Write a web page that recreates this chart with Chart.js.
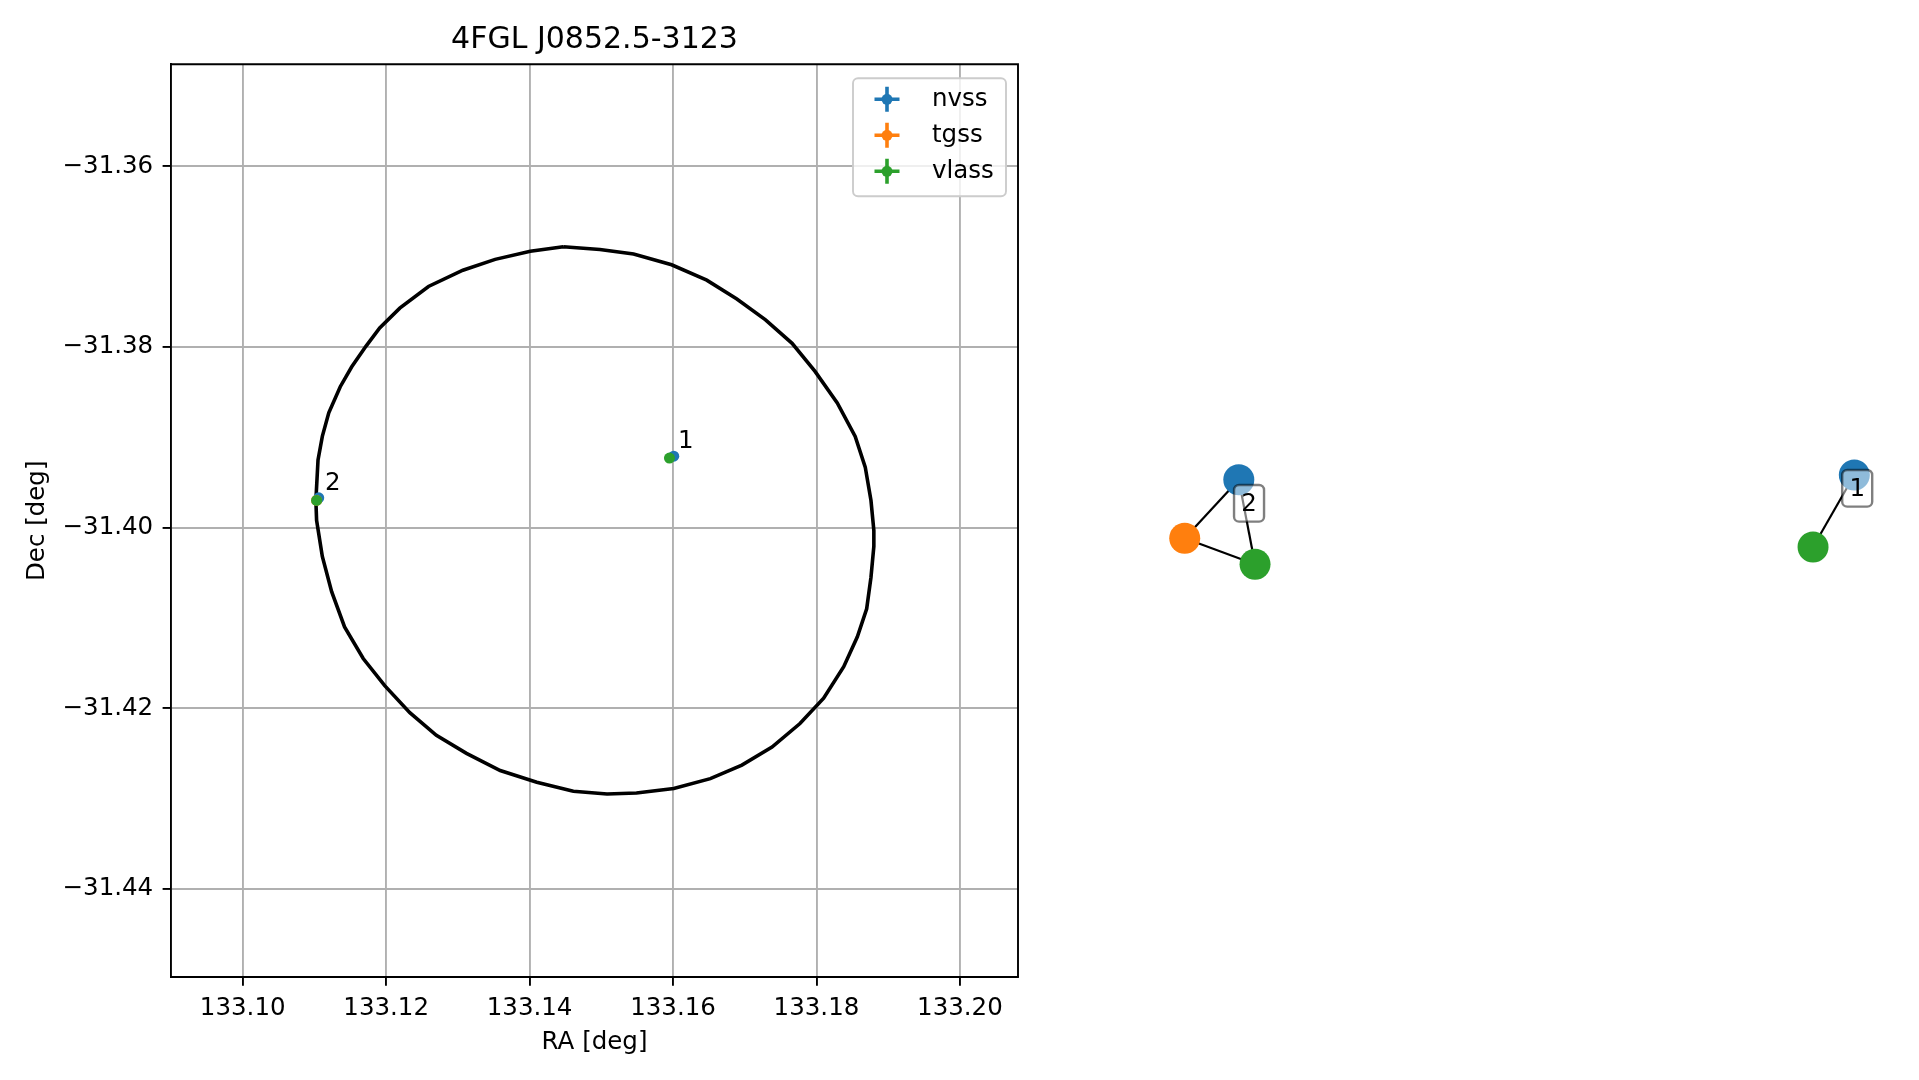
<!DOCTYPE html>
<html>
<head>
<meta charset="utf-8">
<script src="https://cdn.jsdelivr.net/npm/chart.js@4"></script>
<style>
  body { margin: 0; background: #fff; width: 1919px; height: 1080px; overflow: hidden; position: relative; }
  #sky { position: absolute; left: 0; top: 0; }
  #graph { position: absolute; left: 1100px; top: 380px; }
</style>
</head>
<body>
<canvas id="sky" width="1189" height="1080"></canvas>
<canvas id="graph" width="800" height="240"></canvas>
<script>
const FONT = "'DejaVu Sans', sans-serif";
Chart.defaults.font.family = FONT;
Chart.defaults.color = '#000';

// ---- left panel data ----
const plotTitle = "4FGL J0852.5-3123";
const raTicks = [133.10, 133.12, 133.14, 133.16, 133.18, 133.20];
const decTicks = [-31.44, -31.42, -31.40, -31.38, -31.36];
const raRange = [133.0900, 133.2081];
const decRange = [-31.4498, -31.3487];

// 4FGL error ellipse, read vertex by vertex off the picture
const ellipseRa = [133.1447, 133.1498, 133.1545, 133.1598, 133.1647, 133.1689, 133.1729, 133.1766, 133.1798, 133.1829,
  133.1854, 133.1868, 133.1876, 133.1880, 133.1880, 133.1876, 133.1870, 133.1857, 133.1838, 133.1810,
  133.1777, 133.1738, 133.1696, 133.1652, 133.1601, 133.1549, 133.1508, 133.1461, 133.1410, 133.1359,
  133.1312, 133.1270, 133.1233, 133.1198, 133.1168, 133.1142, 133.1124, 133.1111, 133.1103, 133.1102,
  133.1105, 133.1111, 133.1120, 133.1136, 133.1152, 133.1172, 133.1191, 133.1219, 133.1259, 133.1307,
  133.1352, 133.1401];
const ellipseDec = [-31.3689, -31.3692, -31.3697, -31.3709, -31.3726, -31.3747, -31.3770, -31.3796, -31.3827, -31.3862,
  -31.3899, -31.3933, -31.3970, -31.4003, -31.4021, -31.4055, -31.4090, -31.4121, -31.4154, -31.4189,
  -31.4217, -31.4243, -31.4263, -31.4278, -31.4289, -31.4294, -31.4295, -31.4292, -31.4282, -31.4269,
  -31.4250, -31.4230, -31.4205, -31.4175, -31.4145, -31.4110, -31.4071, -31.4032, -31.3992, -31.3970,
  -31.3925, -31.3899, -31.3873, -31.3844, -31.3822, -31.3799, -31.3779, -31.3757, -31.3733, -31.3715,
  -31.3703, -31.3694];

const surveys = ["nvss", "tgss", "vlass"];
const surveyColors = ["#1f77b4", "#ff7f0e", "#2ca02c"];
const sourceNames = ["1", "2"];
// per survey, one entry per source (null = not detected)
const nvssRa = [133.1601, 133.1106];
const nvssDec = [-31.3921, -31.3967];
const tgssRa = [null, 133.1103];
const tgssDec = [null, -31.3970];
const vlassRa = [133.1595, 133.1103];
const vlassDec = [-31.3923, -31.3970];

// ---- right panel (match graph) data, layout coords 0..1 ----
const nodeSurvey = ["nvss", "tgss", "vlass", "nvss", "vlass"];
const nodeX = [0.1735, 0.1059, 0.1938, 0.9429, 0.8913];
const nodeY = [0.5846, 0.3404, 0.2321, 0.6042, 0.3042];
const edgeFrom = [0, 1, 0, 3];
const edgeTo = [1, 2, 2, 4];
const groupNames = ["2", "1"];
const groupX = [0.1863, 0.9465];
const groupY = [0.4862, 0.5487];

function pts(xs, ys) {
  const out = [];
  xs.forEach((x, i) => { if (x !== null) out.push({x: x, y: ys[i]}); });
  return out;
}

const ellipseData = pts(ellipseRa, ellipseDec);
ellipseData.push({x: ellipseRa[0], y: ellipseDec[0]});

const surveyRa = [nvssRa, tgssRa, vlassRa];
const surveyDec = [nvssDec, tgssDec, vlassDec];

// top + right spines
const frame = {
  id: 'frame',
  afterDatasetsDraw(chart) {
    const {ctx, chartArea: a} = chart;
    ctx.save();
    ctx.strokeStyle = '#000';
    ctx.lineWidth = 1.9;
    ctx.beginPath();
    ctx.moveTo(a.left, a.top);
    ctx.lineTo(a.right, a.top);
    ctx.lineTo(a.right, a.bottom);
    ctx.stroke();
    ctx.restore();
  }
};

// source number next to each vlass position
const sourceLabels = {
  id: 'sourceLabels',
  afterDatasetsDraw(chart) {
    const {ctx, scales} = chart;
    ctx.save();
    ctx.font = "24.5px " + FONT;
    ctx.fillStyle = '#000';
    ctx.textAlign = 'left';
    ctx.textBaseline = 'alphabetic';
    sourceNames.forEach((n, i) => {
      const px = scales.x.getPixelForValue(vlassRa[i]);
      const py = scales.y.getPixelForValue(vlassDec[i]);
      ctx.fillText(n, px + 8.5, py - 10);
    });
    ctx.restore();
  }
};

// matplotlib-like legend box with errorbar markers
const skyLegend = {
  id: 'skyLegend',
  afterDraw(chart) {
    const {ctx, chartArea} = chart;
    const w = 153, h = 118;
    const x0 = chartArea.right - 12 - w, y0 = chartArea.top + 14;
    ctx.save();
    ctx.beginPath();
    ctx.roundRect(x0, y0, w, h, 5);
    ctx.fillStyle = 'rgba(255,255,255,0.8)';
    ctx.fill();
    ctx.strokeStyle = '#cccccc';
    ctx.lineWidth = 1.9;
    ctx.stroke();
    surveys.forEach((name, i) => {
      const cx = x0 + 34, cy = y0 + 21 + i * 36;
      ctx.strokeStyle = surveyColors[i];
      ctx.lineWidth = 3.6;
      ctx.beginPath();
      ctx.moveTo(cx - 12.5, cy); ctx.lineTo(cx + 12.5, cy);
      ctx.moveTo(cx, cy - 12.5); ctx.lineTo(cx, cy + 12.5);
      ctx.stroke();
      ctx.fillStyle = surveyColors[i];
      ctx.beginPath();
      ctx.arc(cx, cy, 5.5, 0, 2 * Math.PI);
      ctx.fill();
      ctx.fillStyle = '#000';
      ctx.font = "24.5px " + FONT;
      ctx.textBaseline = 'alphabetic';
      ctx.fillText(name, x0 + 79, cy + 7);
    });
    ctx.restore();
  }
};

const fmt = v => (v < 0 ? '\u2212' : '') + Math.abs(v).toFixed(2);

// lower order is drawn on top
const skyDatasets = [{
  label: 'ellipse',
  data: ellipseData,
  showLine: true,
  borderColor: '#000',
  borderWidth: 3.6,
  pointRadius: 0,
  tension: 0,
  order: 10
}];
surveys.forEach((s, i) => {
  skyDatasets.push({
    label: s,
    data: pts(surveyRa[i], surveyDec[i]),
    backgroundColor: surveyColors[i],
    borderWidth: 0,
    pointRadius: 5.5,
    order: surveys.length - i
  });
});

const axisGrid = {
  color: '#b0b0b0',
  lineWidth: 1.9,
  drawTicks: true,
  tickLength: 8.4,
  tickColor: '#000',
  tickWidth: 1.9
};

new Chart(document.getElementById('sky'), {
  type: 'scatter',
  data: { datasets: skyDatasets },
  options: {
    responsive: false,
    animation: false,
    devicePixelRatio: 1,
    layout: { autoPadding: false, padding: { left: 0, right: 171, top: 0, bottom: 0 } },
    plugins: {
      legend: { display: false },
      tooltip: { enabled: false },
      title: {
        display: true,
        text: plotTitle,
        fullSize: false,
        font: { size: 30, weight: 'normal' },
        color: '#000',
        padding: { top: 22.3, bottom: 6 }
      }
    },
    scales: {
      x: {
        type: 'linear',
        min: raRange[0],
        max: raRange[1],
        afterBuildTicks: s => { s.ticks = raTicks.map(v => ({value: v})); },
        afterFit: s => { s.height = 102.7; },
        grid: axisGrid,
        border: { display: true, color: '#000', width: 1.9 },
        ticks: { font: { size: 24.5 }, color: '#000', padding: 8, maxRotation: 0, autoSkip: false, callback: v => fmt(v) },
        title: { display: true, text: 'RA [deg]', font: { size: 24.5 }, color: '#000', padding: { top: 0, bottom: 23 } }
      },
      y: {
        type: 'linear',
        min: decRange[0],
        max: decRange[1],
        afterBuildTicks: s => { s.ticks = decTicks.map(v => ({value: v})); },
        afterFit: s => { s.width = 171; },
        grid: axisGrid,
        border: { display: true, color: '#000', width: 1.9 },
        ticks: { font: { size: 24.5 }, color: '#000', padding: 9.4, autoSkip: false, callback: v => fmt(v) },
        title: { display: true, text: 'Dec [deg]', font: { size: 24.5 }, color: '#000', padding: { top: 23.3, bottom: 0 } }
      }
    }
  },
  plugins: [frame, sourceLabels, skyLegend]
});

// ---- match graph ----
const groupBoxes = {
  id: 'groupBoxes',
  afterDatasetsDraw(chart) {
    const {ctx, scales} = chart;
    ctx.save();
    groupNames.forEach((n, i) => {
      const cx = scales.x.getPixelForValue(groupX[i]);
      const cy = scales.y.getPixelForValue(groupY[i]);
      const w = 30, h = 36.7;
      ctx.beginPath();
      ctx.roundRect(cx - w / 2, cy - h / 2, w, h, 5);
      ctx.fillStyle = 'rgba(255,255,255,0.5)';
      ctx.fill();
      ctx.strokeStyle = 'rgba(0,0,0,0.5)';
      ctx.lineWidth = 2.4;
      ctx.stroke();
      ctx.fillStyle = '#000';
      ctx.font = "24.5px " + FONT;
      ctx.textAlign = 'center';
      ctx.textBaseline = 'middle';
      ctx.fillText(n, cx, cy + 1);
    });
    ctx.restore();
  }
};

const graphDatasets = edgeFrom.map((a, i) => ({
  data: [{x: nodeX[a], y: nodeY[a]}, {x: nodeX[edgeTo[i]], y: nodeY[edgeTo[i]]}],
  showLine: true,
  borderColor: '#000',
  borderWidth: 2.2,
  pointRadius: 0,
  clip: false,
  order: 2
}));
graphDatasets.push({
  data: nodeX.map((x, i) => ({x: x, y: nodeY[i]})),
  backgroundColor: nodeSurvey.map(s => surveyColors[surveys.indexOf(s)]),
  borderWidth: 0,
  pointRadius: 15.5,
  clip: false,
  order: 1
});

new Chart(document.getElementById('graph'), {
  type: 'scatter',
  data: { datasets: graphDatasets },
  options: {
    responsive: false,
    animation: false,
    devicePixelRatio: 1,
    layout: { autoPadding: false, padding: 0 },
    plugins: { legend: { display: false }, tooltip: { enabled: false } },
    scales: {
      x: { type: 'linear', display: false, min: 0, max: 1 },
      y: { type: 'linear', display: false, min: 0, max: 1 }
    }
  },
  plugins: [groupBoxes]
});
</script>
</body>
</html>
